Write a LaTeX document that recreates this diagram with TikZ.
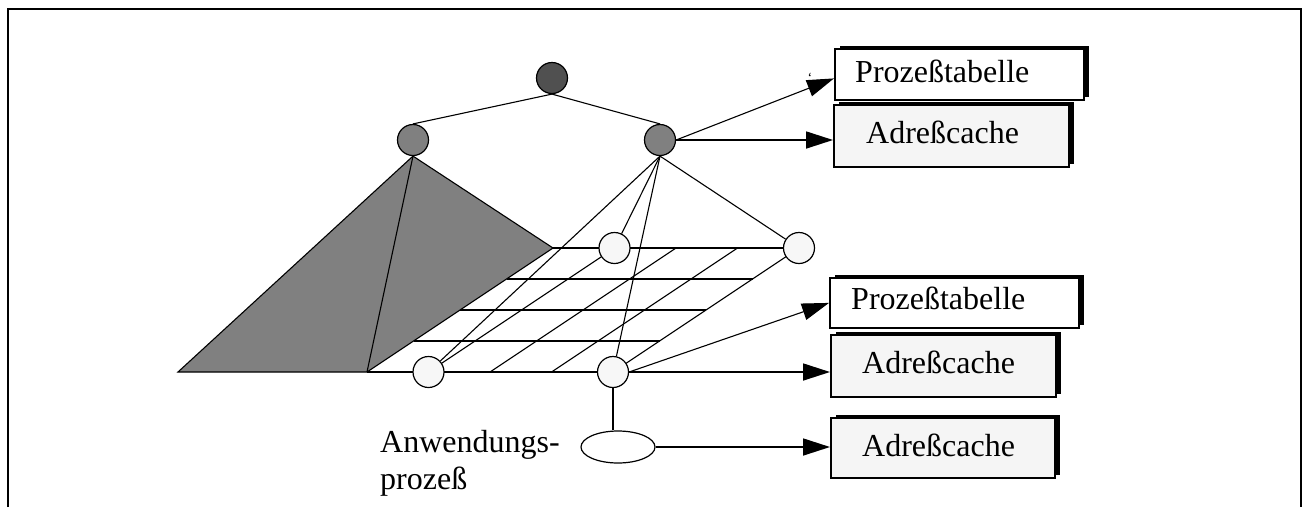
\documentclass[tikz,border=0pt]{standalone}
\usepackage{fontspec}
\setmainfont{Liberation Serif}
\usetikzlibrary{arrows.meta,calc,shapes.geometric,shadows}

\definecolor{rootgray}{HTML}{505050}
\definecolor{midgray}{HTML}{808080}
\definecolor{nodewhite}{HTML}{F7F7F7}
\definecolor{boxgray}{HTML}{F5F5F5}

\begin{document}
\begin{tikzpicture}[x=1pt,y=-1pt,
  lbl/.style={inner sep=0pt, anchor=base west, font=\fontsize{32}{34}\selectfont},
  tnode/.style={circle, draw, line width=1.2pt, minimum size=31pt, inner sep=0pt},
  gnode/.style={tnode, fill=nodewhite},
  tbox/.style={draw, line width=1.8pt, rectangle, inner sep=0pt, anchor=north west,
    general shadow={fill=black, shadow xshift=5pt, shadow yshift=3pt}},
  thinline/.style={line width=1.1pt},
  rowline/.style={line width=1.7pt},
  arr/.style={-{Triangle[length=27pt,width=17pt]}, line width=1.7pt},
  arrthin/.style={-{Triangle[length=27pt,width=17pt]}, line width=1.1pt},
]
\useasboundingbox (0,0) rectangle (1303,507);

% open frame
\draw[line width=2.4pt] (8,507) -- (8,9) -- (1301,9) -- (1301,507);

% tree nodes
\node[tnode, fill=rootgray] (root) at (552,78) {};
\node[tnode, fill=midgray] (lc) at (413,140) {};
\node[tnode, fill=midgray] (rc) at (660,140) {};

% grid corners
\coordinate (BL) at (553,248);
\coordinate (BR) at (799,248);
\coordinate (FL) at (367,372);
\coordinate (FR) at (613,372);
\coordinate (PL) at (178,372);

% shaded pyramid below the left child
\draw[thinline, fill=midgray] (lc.south) -- (PL) -- (FL) -- (BL) -- cycle;
\draw[thinline] (lc.south) -- (FL);

% grid lines
\draw[thinline] (BL) -- (BR);
\draw[thinline] (FL) -- (FR);
\foreach \t in {0.25,0.5,0.75}
  \draw[rowline] ($(BL)!\t!(FL)$) -- ($(BR)!\t!(FR)$);
\foreach \t in {0.25,0.5,0.75,1}
  \draw[thinline] ($(FL)!\t!(FR)$) -- ($(BL)!\t!(BR)$);

% grid nodes
\node[gnode] (b1) at ($(BL)!0.25!(BR)$) {};
\node[gnode] (b4) at (BR) {};
\node[gnode] (f1) at ($(FL)!0.25!(FR)$) {};
\node[gnode] (f4) at (FR) {};

% tree edges
\draw[thinline] (root.south) -- (lc.north);
\draw[thinline] (root.south) -- (rc.north);
\coordinate (rcs) at (rc.south);
\draw[thinline] (rcs) -- (f1);
\draw[thinline] (rcs) -- (b1);
\draw[thinline] (rcs) -- (f4);
\draw[thinline] (rcs) -- (b4);

% application process
\node[ellipse, draw, line width=1.2pt, fill=white, minimum width=74pt, minimum height=32pt, inner sep=0pt] (ap) at (618,447) {};
\node[inner sep=0pt, anchor=north west, align=left, font=\fontsize{32}{37}\selectfont] (aplbl) at (380,430) {Anwendungs-\\prozeß};

% tables
\node[tbox, fill=white, minimum width=249pt, minimum height=51pt] (pt1) at (834,48) {};
\node[tbox, fill=boxgray, minimum width=235pt, minimum height=62pt] (ac1) at (833,104) {};
\node[tbox, fill=white, minimum width=249pt, minimum height=50pt] (pt2) at (829,277) {};
\node[tbox, fill=boxgray, minimum width=225pt, minimum height=62pt] (ac2) at (830,334) {};
\node[tbox, fill=boxgray, minimum width=224pt, minimum height=60pt] (ac3) at (830,417) {};

\node[lbl] (pt1t) at (855,82) {Prozeßtabelle};
\node[lbl] (ac1t) at (866,143) {Adreßcache};
\node[lbl] (pt2t) at (851,309) {Prozeßtabelle};
\node[lbl] (ac2t) at (862,373) {Adreßcache};
\node[lbl] (ac3t) at (862,456) {Adreßcache};

% pointers to the tables
\draw[arrthin] (rc.east) -- ($(pt1.west)+(0,4)$);
\node[inner sep=0pt, font=\fontsize{14}{14}\selectfont] (tick) at (810,78) {`};
\draw[arr] (rc.east) -- (rc.east -| ac1.west);
\draw[arrthin] (f4.east) -- (pt2.west);
\draw[arr] (f4.east) -- (f4.east -| ac2.west);
\draw[line width=1.7pt] (f4.south) -- (f4.south |- ap.north);
\draw[arr] (ap.east) -- (ap.east -| ac3.west);
\end{tikzpicture}
\end{document}
